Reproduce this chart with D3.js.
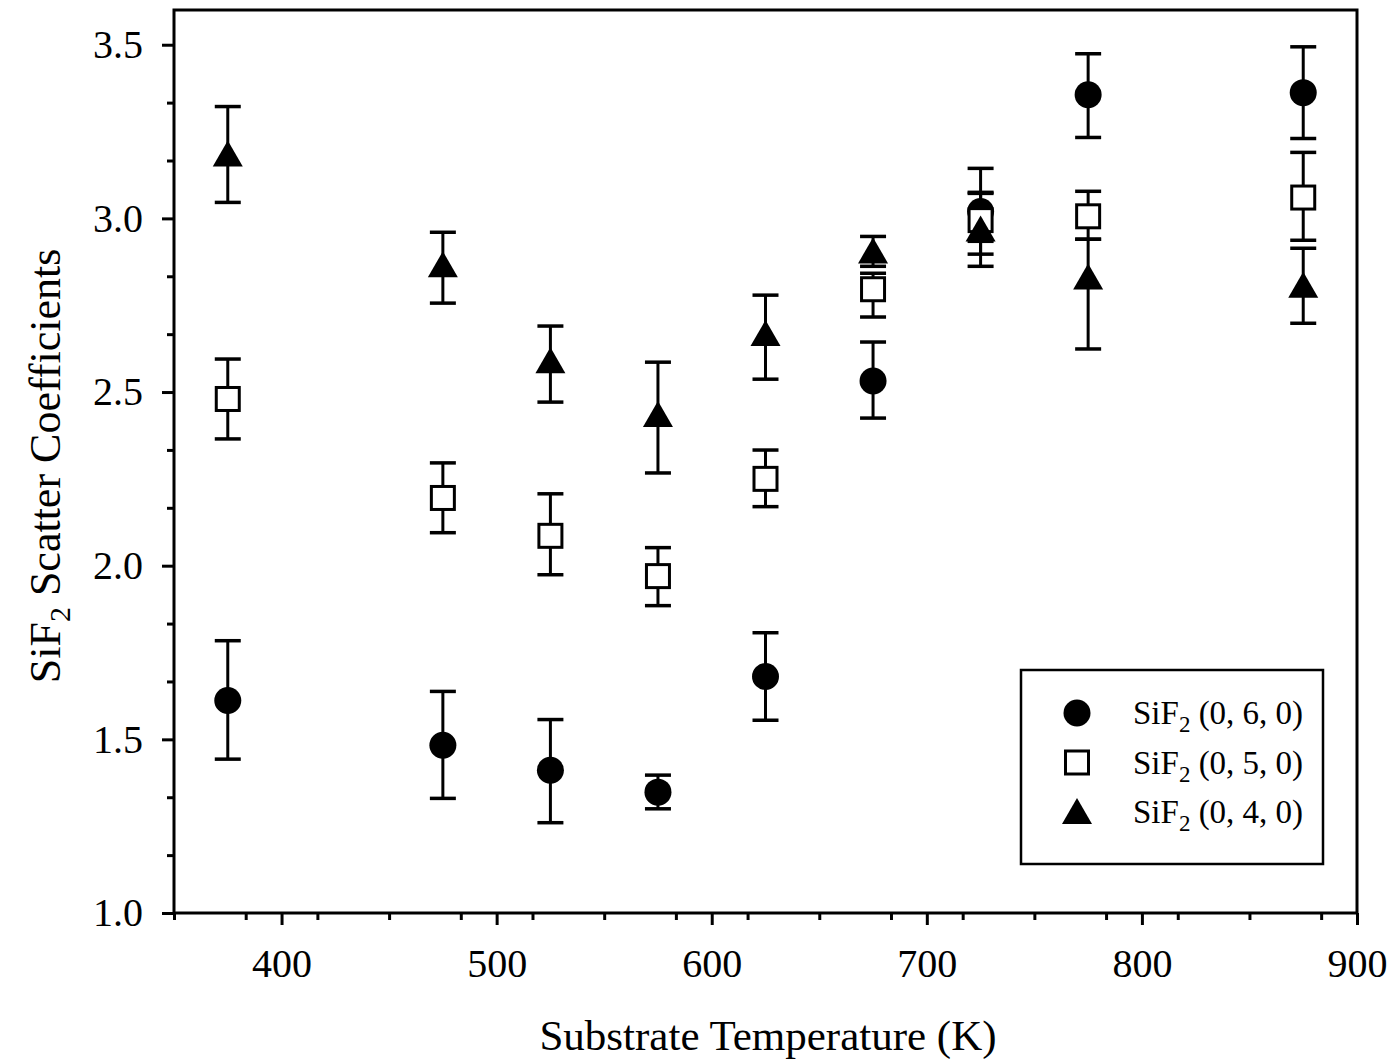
<!DOCTYPE html>
<html>
<head>
<meta charset="utf-8">
<script src="https://cdn.jsdelivr.net/npm/d3@7"></script>
<style>
  body { margin: 0; background: #fff; }
  text { font-family: "Liberation Serif", "Times New Roman", serif; fill: #000; }
</style>
</head>
<body>
<script>
// substrate temperatures (K)
var temps = [375, 475, 525, 575, 625, 675, 725, 775, 875];

// SiF2 (0, 6, 0)
var v060 = [1.612, 1.483, 1.411, 1.348, 1.681, 2.532, 3.02, 3.356, 3.362];
var hi060 = [1.784, 1.638, 1.557, 1.397, 1.807, 2.644, 3.144, 3.474, 3.494];
var lo060 = [1.443, 1.33, 1.26, 1.30, 1.555, 2.425, 2.897, 3.233, 3.23];

// SiF2 (0, 5, 0)
var v050 = [2.48, 2.195, 2.086, 1.97, 2.25, 2.796, 2.995, 3.006, 3.06];
var hi050 = [2.595, 2.296, 2.207, 2.052, 2.333, 2.842, 3.072, 3.078, 3.19];
var lo050 = [2.365, 2.095, 1.974, 1.885, 2.17, 2.716, 2.934, 2.94, 2.937];

// SiF2 (0, 4, 0)
var v040 = [3.184, 2.865, 2.589, 2.434, 2.667, 2.905, 2.968, 2.83, 2.806];
var hi040 = [3.322, 2.96, 2.69, 2.586, 2.779, 2.948, 3.075, 2.94, 2.914];
var lo040 = [3.046, 2.756, 2.471, 2.267, 2.537, 2.862, 2.862, 2.624, 2.698];

var xTicks = [400, 500, 600, 700, 800, 900];
var yTicks = [1.0, 1.5, 2.0, 2.5, 3.0, 3.5];
var legendLabels = ["(0, 6, 0)", "(0, 5, 0)", "(0, 4, 0)"];

var svgWidth = 1394;
var svgHeight = 1064;
var margin = {top: 10, right: 37, bottom: 151, left: 174};

var svg = d3.select("body")
        .append("svg")
        .attr("width", svgWidth)
        .attr("height", svgHeight);

var xScale = d3.scaleLinear()
        .domain([350, 900])
        .range([margin.left, svgWidth - margin.right]);

var yScale = d3.scaleLinear()
        .domain([1.0, 3.6])
        .range([svgHeight - margin.bottom, margin.top]);

// minor ticks (3 per major interval)
var xMinor = d3.range(350, 900.01, 100 / 3).filter(function (d) {
    return Math.abs(d / 100 - Math.round(d / 100)) > 0.01;
});
var yMinor = d3.range(1.0, 3.6, 0.5 / 3).filter(function (d) {
    return Math.abs(d * 2 - Math.round(d * 2)) > 0.01;
});

function styleAxis(g) {
    g.select(".domain").remove();
    g.selectAll(".tick line").attr("stroke", "#000").attr("stroke-width", 3);
    g.selectAll(".tick text")
        .style("font-family", "'Liberation Serif', serif")
        .style("font-size", "40px");
}

svg.append("g")
        .attr("class", "x minor")
        .attr("transform", "translate(0," + (svgHeight - margin.bottom) + ")")
        .call(d3.axisBottom(xScale).tickValues(xMinor).tickSize(7).tickFormat(""))
        .call(styleAxis);

svg.append("g")
        .attr("class", "y minor")
        .attr("transform", "translate(" + margin.left + ",0)")
        .call(d3.axisLeft(yScale).tickValues(yMinor).tickSize(7).tickFormat(""))
        .call(styleAxis);

svg.append("g")
        .attr("class", "x axis")
        .attr("transform", "translate(0," + (svgHeight - margin.bottom) + ")")
        .call(d3.axisBottom(xScale).tickValues(xTicks).tickSize(12).tickPadding(24).tickFormat(d3.format("d")))
        .call(styleAxis);

svg.append("g")
        .attr("class", "y axis")
        .attr("transform", "translate(" + margin.left + ",0)")
        .call(d3.axisLeft(yScale).tickValues(yTicks).tickSize(12).tickPadding(19).tickFormat(d3.format(".1f")))
        .call(styleAxis);

// frame
svg.append("rect")
        .attr("x", margin.left)
        .attr("y", margin.top)
        .attr("width", svgWidth - margin.left - margin.right)
        .attr("height", svgHeight - margin.top - margin.bottom)
        .attr("fill", "none")
        .attr("stroke", "#000")
        .attr("stroke-width", 3);

// axis titles
svg.append("text")
        .attr("x", 768)
        .attr("y", 1050)
        .attr("text-anchor", "middle")
        .style("font-size", "43px")
        .text("Substrate Temperature (K)");

var yTitle = svg.append("text")
        .attr("transform", "translate(60,466) rotate(-90)")
        .attr("text-anchor", "middle")
        .style("font-size", "44px");
yTitle.append("tspan").text("SiF");
yTitle.append("tspan").attr("dy", 10).style("font-size", "30px").text("2");
yTitle.append("tspan").attr("dy", -10).text(" Scatter Coefficients");

var series = [
    {v: v060, hi: hi060, lo: lo060, shape: "circle"},
    {v: v050, hi: hi050, lo: lo050, shape: "square"},
    {v: v040, hi: hi040, lo: lo040, shape: "triangle"}
];

var capW = 13;

function drawMarker(g, shape, cx, cy) {
    if (shape === "circle") {
        g.append("circle").attr("cx", cx).attr("cy", cy).attr("r", 13.5).attr("fill", "#000");
    } else if (shape === "square") {
        g.append("rect").attr("x", cx - 11.5).attr("y", cy - 11.5)
            .attr("width", 23).attr("height", 23)
            .attr("fill", "#fff").attr("stroke", "#000").attr("stroke-width", 3);
    } else {
        g.append("path")
            .attr("d", "M" + cx + "," + (cy - 14) + "L" + (cx + 15) + "," + (cy + 12) + "L" + (cx - 15) + "," + (cy + 12) + "Z")
            .attr("fill", "#000");
    }
}

series.forEach(function (s) {
    var g = svg.append("g");
    temps.forEach(function (t, i) {
        var x = xScale(t);
        g.append("line").attr("x1", x).attr("x2", x)
            .attr("y1", yScale(s.hi[i])).attr("y2", yScale(s.lo[i]))
            .attr("stroke", "#000").attr("stroke-width", 3);
        [s.hi[i], s.lo[i]].forEach(function (e) {
            g.append("line").attr("x1", x - capW).attr("x2", x + capW)
                .attr("y1", yScale(e)).attr("y2", yScale(e))
                .attr("stroke", "#000").attr("stroke-width", 3.5);
        });
    });
});

series.forEach(function (s) {
    var g = svg.append("g");
    temps.forEach(function (t, i) {
        drawMarker(g, s.shape, xScale(t), yScale(s.v[i]));
    });
});

// legend
var legend = svg.append("g");
legend.append("rect")
        .attr("x", 1021).attr("y", 670)
        .attr("width", 302).attr("height", 194)
        .attr("fill", "#fff").attr("stroke", "#000").attr("stroke-width", 2.5);

series.forEach(function (s, i) {
    var cy = 713 + i * 49.5;
    drawMarker(legend, s.shape, 1077, cy);
    var txt = legend.append("text")
        .attr("x", 1133).attr("y", cy + 11)
        .style("font-size", "33px");
    txt.append("tspan").text("SiF");
    txt.append("tspan").attr("dy", 8).style("font-size", "23px").text("2");
    txt.append("tspan").attr("dy", -8).text(" " + legendLabels[i]);
});
</script>
</body>
</html>
